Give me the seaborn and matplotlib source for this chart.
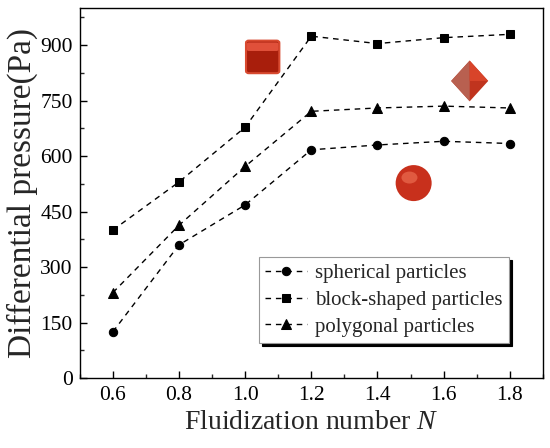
import numpy as np
import pandas as pd
import matplotlib.pyplot as plt
import seaborn as sns
from matplotlib.patches import FancyBboxPatch, Polygon, Ellipse
from matplotlib.ticker import MultipleLocator

# data
fluid_n = [0.6, 0.8, 1.0, 1.2, 1.4, 1.6, 1.8]
spherical = [125, 360, 468, 617, 630, 640, 634]
block = [400, 530, 678, 924, 904, 920, 929]
polygonal = [231, 413, 572, 721, 730, 735, 730]

series = [('spherical particles', spherical, 'o', 6),
          ('block-shaped particles', block, 's', 5.3),
          ('polygonal particles', polygonal, '^', 6.5)]

sns.set_style('ticks')
plt.rcParams['font.family'] = ['Liberation Serif', 'DejaVu Serif']
plt.rcParams['mathtext.fontset'] = 'custom'
plt.rcParams['mathtext.it'] = 'Liberation Serif:italic'
plt.rcParams['mathtext.rm'] = 'Liberation Serif'

fig, ax = plt.subplots(figsize=(5.5, 4.48), dpi=100)
fig.subplots_adjust(left=0.145, right=0.987, top=0.982, bottom=0.156)

for name, vals, mk, ms in series:
    df = pd.DataFrame({'N': fluid_n, 'dp': vals})
    sns.lineplot(data=df, x='N', y='dp', ax=ax, color='black', marker=mk,
                 markersize=ms, markeredgecolor='black', linewidth=1,
                 linestyle=(0, (4, 3.5)), label=name)

ax.set_xlim(0.5, 1.9)
ax.set_ylim(0, 1000)
ax.xaxis.set_minor_locator(MultipleLocator(0.1))
ax.yaxis.set_major_locator(MultipleLocator(150))
ax.yaxis.set_minor_locator(MultipleLocator(75))
ax.set_xticks([0.6, 0.8, 1.0, 1.2, 1.4, 1.6, 1.8])
ax.set_xticklabels(['0.6', '0.8', '1.0', '1.2', '1.4', '1.6', '1.8'])
ax.tick_params(which='major', direction='in', length=5, width=1, labelsize=15.5, colors='black')
ax.tick_params(which='minor', direction='in', length=3, width=1)
ax.xaxis.set_tick_params(pad=6)
ax.yaxis.set_tick_params(pad=5)
for s in ax.spines.values():
    s.set_visible(True)
    s.set_color('black')
    s.set_linewidth(1)

ax.set_xlabel('Fluidization number $N$', fontsize=20, labelpad=3)
ax.set_ylabel('Differential pressure(Pa)', fontsize=24, labelpad=2)

leg = ax.legend(loc='upper left', bbox_to_anchor=(0.387, 0.327), fontsize=15,
                frameon=True, fancybox=False, edgecolor='#999999',
                shadow={'color': 'black', 'alpha': 1},
                borderpad=0.3, labelspacing=0.35, handlelength=2.0,
                handletextpad=0.4, borderaxespad=0)
leg.get_frame().set_linewidth(0.8)
leg.get_frame().set_alpha(1)

# decorative particle icons
red = '#c8301c'
cube = FancyBboxPatch((0.395 - 0.03, 0.868 - 0.038), 0.06, 0.076,
                      boxstyle='round,pad=0.006', transform=ax.transAxes,
                      facecolor='#a81e0c', edgecolor='#d84a30', linewidth=1.5)
ax.add_patch(cube)
ax.add_patch(FancyBboxPatch((0.395 - 0.03, 0.868 + 0.02), 0.06, 0.015,
                            boxstyle='round,pad=0.004', transform=ax.transAxes,
                            facecolor='#e0503a', edgecolor='none'))
cx, cy, hw, hh = 0.842, 0.803, 0.04, 0.055
ax.add_patch(Polygon([[cx, cy + hh], [cx + hw, cy], [cx, cy - hh], [cx - hw, cy]],
                     closed=True, transform=ax.transAxes, facecolor='#c0341e', edgecolor='none'))
ax.add_patch(Polygon([[cx, cy + hh], [cx, cy - hh], [cx - hw, cy]],
                     closed=True, transform=ax.transAxes, facecolor='#b86050', edgecolor='none'))
ax.add_patch(Polygon([[cx, cy + hh], [cx + hw, cy], [cx, cy]],
                     closed=True, transform=ax.transAxes, facecolor='#d8442a', edgecolor='none'))
ax.add_patch(Ellipse((0.721, 0.527), 36 / 463, 36 / 370, transform=ax.transAxes,
                     facecolor=red, edgecolor='none'))
ax.add_patch(Ellipse((0.712, 0.542), 16 / 463, 12 / 370, transform=ax.transAxes,
                     facecolor='#e05a40', edgecolor='none'))

fig.savefig('out.png', dpi=100)
